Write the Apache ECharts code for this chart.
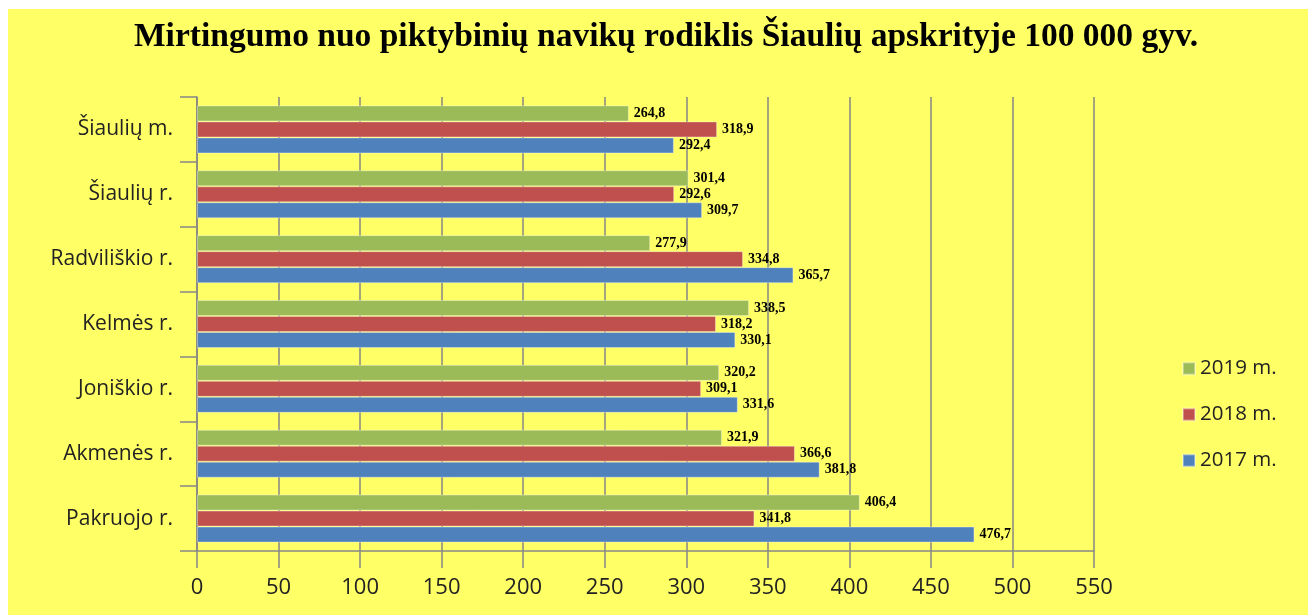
<!DOCTYPE html>
<html lang="lt">
<head>
  <meta charset="utf-8">
</head>
<body style="margin: 0; background: #fff">
  <div id="container" style="position: absolute; left: 8px; top: 9px; width: 1300px; height: 606px"></div>

  <script type="text/javascript" src="https://cdn.jsdelivr.net/npm/echarts@6/dist/echarts.min.js"></script>
  <script type="text/javascript">
    // duomenys
    var regions = ['Šiaulių m.', 'Šiaulių r.', 'Radviliškio r.', 'Kelmės r.', 'Joniškio r.', 'Akmenės r.', 'Pakruojo r.'];
    var y2019 = [264.8, 301.4, 277.9, 338.5, 320.2, 321.9, 406.4];
    var y2018 = [318.9, 292.6, 334.8, 318.2, 309.1, 366.6, 341.8];
    var y2017 = [292.4, 309.7, 365.7, 330.1, 331.6, 381.8, 476.7];
    var xTicks = [0, 50, 100, 150, 200, 250, 300, 350, 400, 450, 500, 550];

    var dom = document.getElementById('container');
    var myChart = echarts.init(dom, null, { renderer: 'canvas' });

    var labelOpt = {
      show: true,
      position: 'right',
      distance: 5,
      color: '#000',
      fontFamily: 'Liberation Serif',
      fontWeight: 'bold',
      fontSize: 14,
      formatter: function (p) { return p.value.toFixed(1).replace('.', ','); }
    };
    function mkSeries(name, data, color) {
      return {
        name: name,
        type: 'bar',
        data: data,
        barGap: '0%',
        barCategoryGap: '26%',
        itemStyle: { color: color, borderColor: 'rgba(255,255,255,0.35)', borderWidth: 1 },
        label: labelOpt
      };
    }

    var option = {
      backgroundColor: '#FFFF66',
      animation: false,
      title: {
        text: 'Mirtingumo nuo piktybinių navikų rodiklis Šiaulių apskrityje 100 000 gyv.',
        left: 121,
        top: 6,
        textStyle: { fontFamily: 'Liberation Serif', fontWeight: 'bold', fontSize: 33.5, color: '#000' }
      },
      legend: {
        orient: 'vertical',
        left: 1169,
        top: 344,
        itemWidth: 12,
        itemHeight: 12,
        itemGap: 25,
        icon: 'rect',
        data: ['2019 m.', '2018 m.', '2017 m.'],
        textStyle: { fontFamily: 'Open Sans', fontSize: 20.5, color: '#222' }
      },
      grid: { left: 189, right: 214, top: 88, bottom: 64 },
      xAxis: {
        type: 'value',
        min: xTicks[0],
        max: xTicks[xTicks.length - 1],
        interval: 50,
        axisLine: { show: true, lineStyle: { color: '#868686', width: 1.5 } },
        axisTick: { show: true, length: 17, lineStyle: { color: '#868686', width: 1.5 } },
        splitLine: { show: true, lineStyle: { color: '#868686', width: 1.5 } },
        axisLabel: { margin: 26, fontFamily: 'Open Sans', fontSize: 22, color: '#222' }
      },
      yAxis: {
        type: 'category',
        inverse: true,
        data: regions,
        axisLine: { show: true, lineStyle: { color: '#868686', width: 1.5 } },
        axisTick: { show: true, length: 17, lineStyle: { color: '#868686', width: 1.5 } },
        axisLabel: { margin: 24, fontFamily: 'Open Sans', fontSize: 21, color: '#222' }
      },
      series: [
        mkSeries('2019 m.', y2019, '#9BBB59'),
        mkSeries('2018 m.', y2018, '#C0504D'),
        mkSeries('2017 m.', y2017, '#4F81BD')
      ]
    };

    myChart.setOption(option);
    window.addEventListener('resize', myChart.resize);
  </script>
</body>
</html>
